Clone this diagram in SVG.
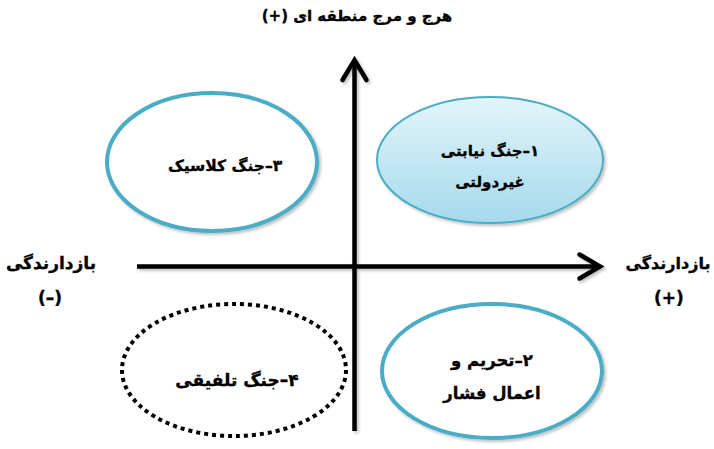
<svg xmlns="http://www.w3.org/2000/svg" width="714" height="449" viewBox="0 0 714 449">
<style>
.t{font-family:"DejaVu Sans","Noto Sans",sans-serif;font-weight:bold;font-size:15.5px;fill:#000;stroke:#000;stroke-width:0.35;text-anchor:middle;direction:rtl}
.ax{stroke:#000;stroke-width:4.5;fill:none}
.ah{stroke:#000;stroke-width:4.5;fill:none;stroke-linecap:round;stroke-linejoin:miter}
.ring{fill:#fff;stroke:#4BACC6;stroke-width:4}
</style>
<defs>
<linearGradient id="g1" x1="0" y1="0" x2="0" y2="1">
<stop offset="0" stop-color="#E3F4FA"/>
<stop offset="1" stop-color="#A5DAEC"/>
</linearGradient>
<filter id="sh" x="-10%" y="-10%" width="125%" height="125%">
<feDropShadow dx="2" dy="2" stdDeviation="1.5" flood-color="#000" flood-opacity="0.25"/>
</filter>
</defs>
<rect width="714" height="449" fill="#fff"/>
<text class="t" x="357" y="21" style="font-size:15px">هرج و مرج منطقه ای (+)</text>
<g id="connectors" filter="url(#sh)">
<line class="ax" x1="354.5" y1="62" x2="354.5" y2="431"/>
<polyline class="ah" points="342.5,80 354.5,60 366.5,80"/>
<line class="ax" x1="137" y1="266.5" x2="598" y2="266.5"/>
<polyline class="ah" points="579.5,254.5 600,266.5 579.5,278.5"/>
</g>
<g id="node1">
<ellipse cx="490" cy="160" rx="113" ry="63" fill="url(#g1)" stroke="#4BACC6" stroke-width="2" filter="url(#sh)"/>
<text class="t" x="490" y="156" style="font-size:15px">۱–جنگ نیابتی</text>
<text class="t" x="490" y="187" style="font-size:15px">غیردولتی</text>
</g>
<g id="node3">
<ellipse class="ring" cx="212" cy="162" rx="105" ry="69" filter="url(#sh)"/>
<text class="t" x="225" y="171">۳–جنگ کلاسیک</text>
</g>
<g id="node4">
<ellipse cx="234" cy="370" rx="112" ry="66" fill="none" stroke="#000" stroke-width="4" stroke-dasharray="4 4"/>
<text class="t" x="237" y="386" style="font-size:17px">۴–جنگ تلفیقی</text>
</g>
<g id="node2">
<ellipse class="ring" cx="492" cy="371" rx="110" ry="67" filter="url(#sh)"/>
<text class="t" x="492" y="366" style="font-size:16.5px">۲–تحریم  و</text>
<text class="t" x="492" y="399" style="font-size:16.5px">اعمال فشار</text>
</g>
<g id="label-left">
<text class="t" x="51" y="269" style="font-size:17px">بازدارندگی</text>
<text class="t" x="50" y="304" style="font-size:17px">(–)</text>
</g>
<g id="label-right">
<text class="t" x="668" y="269" style="font-size:16px">بازدارندگی</text>
<text class="t" x="669" y="304" style="font-size:17px">(+)</text>
</g>
</svg>
